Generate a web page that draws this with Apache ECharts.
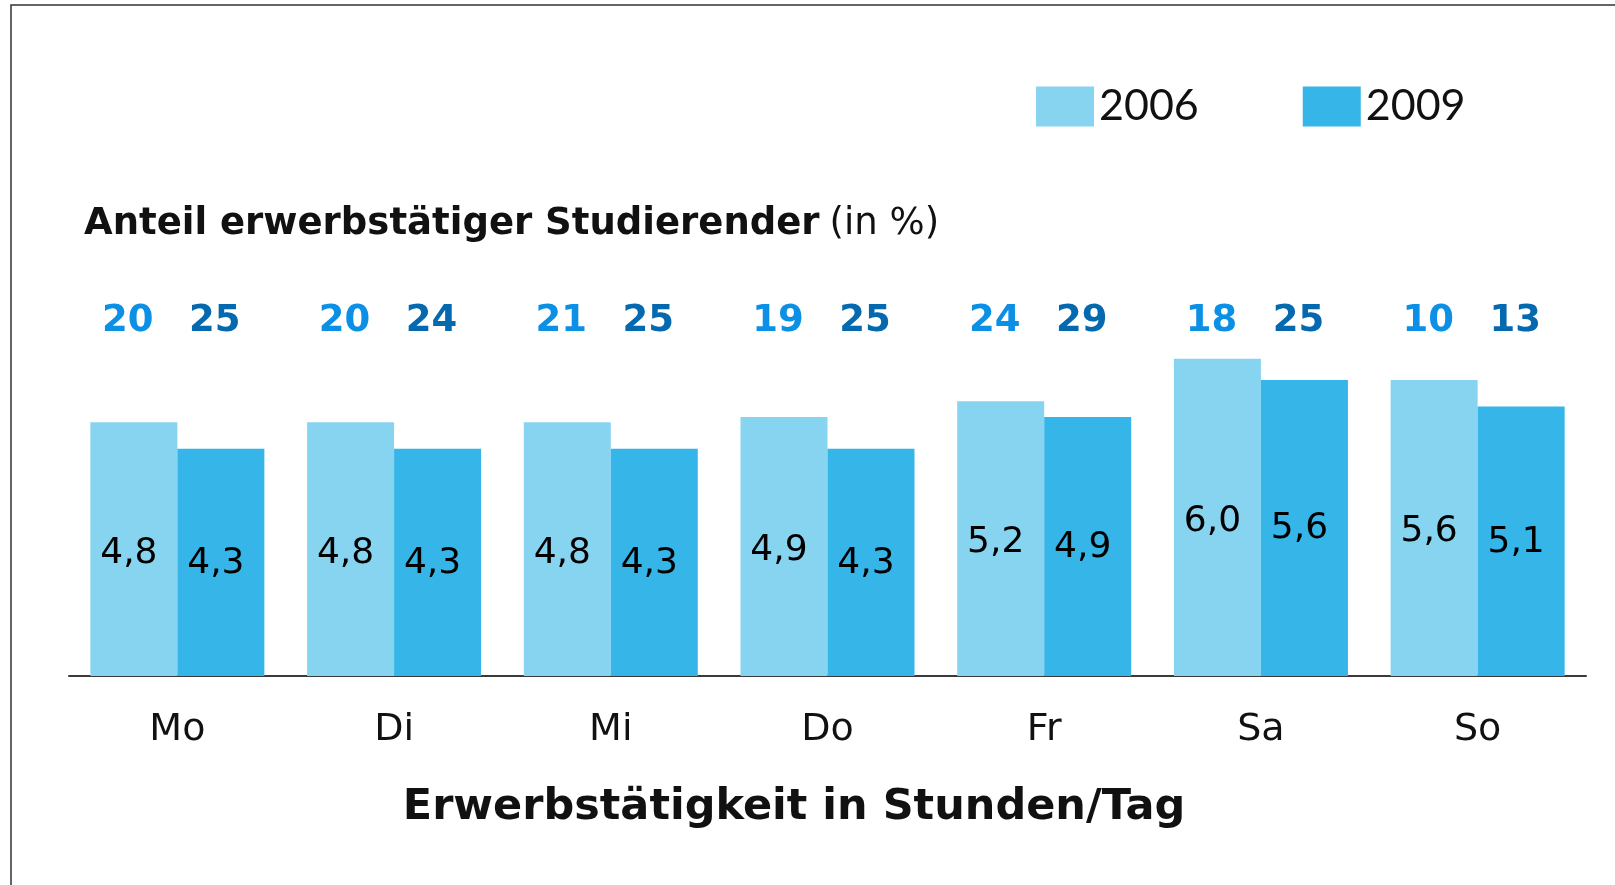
<!DOCTYPE html>
<html>
<head>
<meta charset="utf-8">
<script src="https://cdn.jsdelivr.net/npm/echarts@6/dist/echarts.min.js"></script>
<style>
  html, body { margin: 0; padding: 0; background: #fff; }
  #chart { width: 1615px; height: 885px; }
</style>
</head>
<body>
<div id="chart"></div>
<script>
const days = ["Mo", "Di", "Mi", "Do", "Fr", "Sa", "So"];
const years = ["2006", "2009"];
// Erwerbstätigkeit in Stunden/Tag
const hours2006 = [4.8, 4.8, 4.8, 4.9, 5.2, 6.0, 5.6];
const hours2009 = [4.3, 4.3, 4.3, 4.3, 4.9, 5.6, 5.1];
// Anteil erwerbstätiger Studierender (in %)
const share2006 = [20, 20, 21, 19, 24, 18, 10];
const share2009 = [25, 24, 25, 25, 29, 25, 13];

const light = "#87d4f1";
const dark = "#35b5e8";

const chart = echarts.init(document.getElementById("chart"));

const fmt = (p) => p.value.toFixed(1).replace(".", ",");

const option = {
  animation: false,
  backgroundColor: "#fff",
  title: [
    {
      text: "{b|Anteil erwerbstätiger Studierender}  {r|(in %)}",
      left: 79,
      top: 201,
      textStyle: {
        rich: {
          b: { fontFamily: "DejaVu Sans", fontWeight: "bold", fontSize: 37, color: "#111" },
          r: { fontFamily: "DejaVu Sans", fontWeight: "normal", fontSize: 37, color: "#111" },
        },
      },
    },
    {
      text: "Erwerbstätigkeit in Stunden/Tag",
      left: 789,
      textAlign: "center",
      top: 781,
      textStyle: { fontFamily: "DejaVu Sans", fontWeight: "bold", fontSize: 43, color: "#111" },
    },
  ],
  legend: {
    data: years,
    left: 1031,
    top: 80,
    itemWidth: 58,
    itemHeight: 40,
    itemGap: 104,
    icon: "rect",
    textStyle: { fontFamily: "Lato", fontSize: 43, color: "#111" },
  },
  grid: { left: 69, right: 29, top: 343, bottom: 209 },
  xAxis: [
    {
      type: "category",
      data: days,
      axisTick: { show: false },
      axisLine: { lineStyle: { color: "#3a3a3a", width: 2 } },
      axisLabel: { fontFamily: "DejaVu Sans", fontSize: 38, color: "#111", margin: 35 },
    },
    {
      type: "category",
      position: "top",
      data: days,
      axisTick: { show: false },
      axisLine: { show: false },
      axisLabel: {
        margin: 3,
        padding: [0, 12, 0, 0],
        formatter: (v, i) => `{a|${share2006[i]}}{b|${share2009[i]}}`,
        rich: {
          a: { width: 87, align: "center", fontFamily: "DejaVu Sans", fontWeight: "bold", fontSize: 37, color: "#0b90e6" },
          b: { width: 87, align: "center", fontFamily: "DejaVu Sans", fontWeight: "bold", fontSize: 37, color: "#0569b0" },
        },
      },
    },
  ],
  yAxis: { type: "value", min: 0, max: 6.3, show: false },
  series: [
    {
      name: "2006",
      type: "bar",
      data: hours2006,
      barWidth: 87,
      barGap: "0%",
      itemStyle: { color: light },
      label: { show: true, position: "inside", offset: [-5, 4], formatter: fmt, fontFamily: "DejaVu Sans", fontSize: 36, color: "#000" },
    },
    {
      name: "2009",
      type: "bar",
      data: hours2009,
      barWidth: 87,
      itemStyle: { color: dark },
      label: { show: true, position: "inside", offset: [-5, 1], formatter: fmt, fontFamily: "DejaVu Sans", fontSize: 36, color: "#000" },
    },
  ],
  graphic: [
    {
      type: "rect",
      shape: { x: 11, y: 5, width: 1800, height: 1000 },
      style: { fill: "none", stroke: "#333", lineWidth: 1.5 },
      silent: true,
    },
  ],
};

chart.setOption(option);
</script>
</body>
</html>
